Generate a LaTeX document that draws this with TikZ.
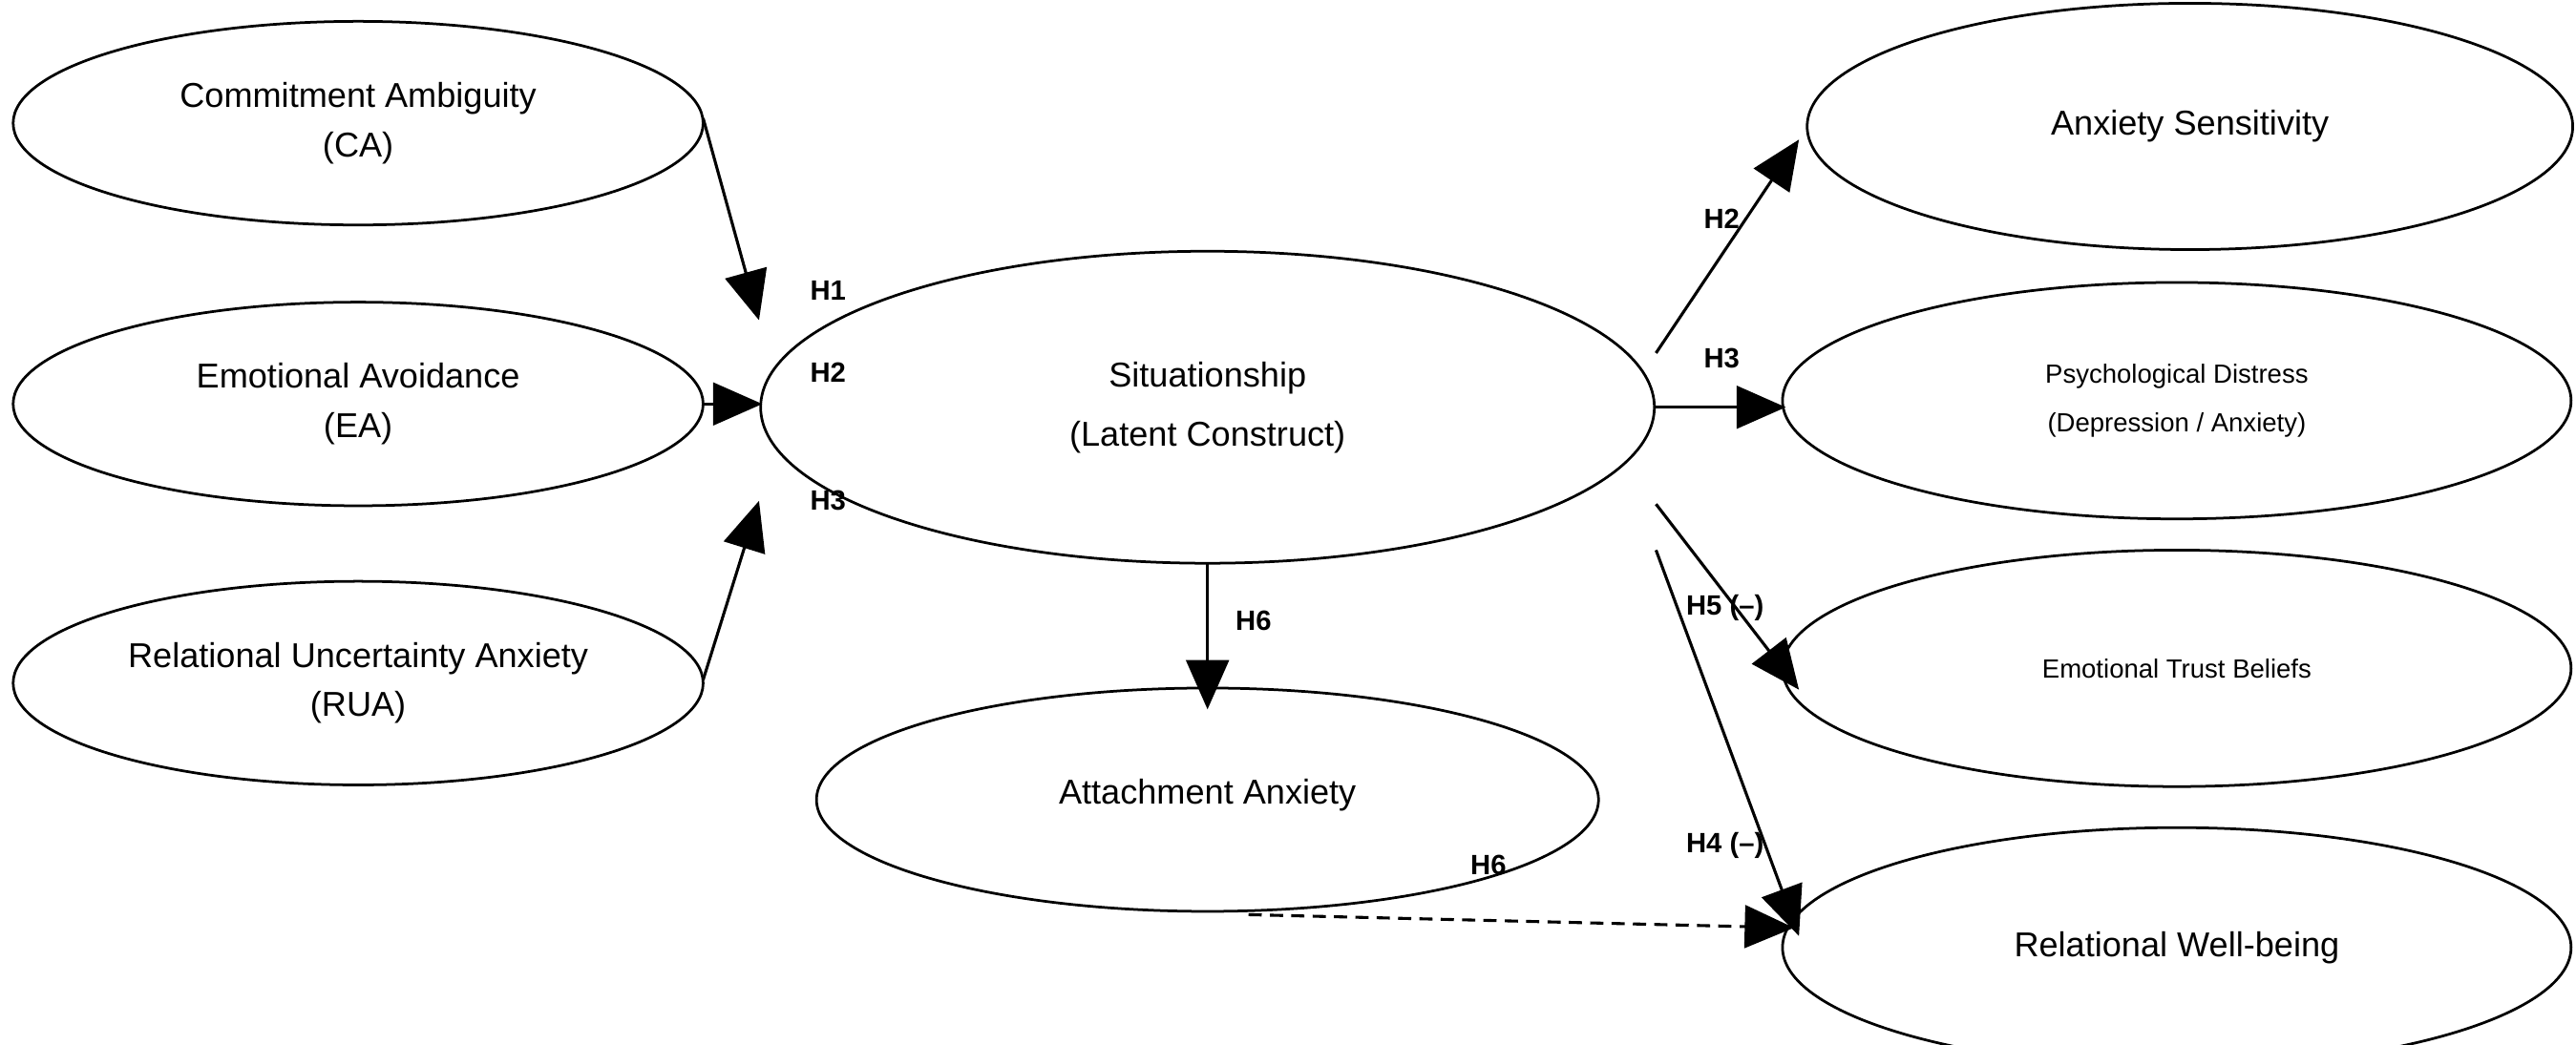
\documentclass[tikz,border=0pt]{standalone}
\usepackage{fontspec}
\setmainfont{Liberation Sans}
\usetikzlibrary{arrows.meta,shapes.geometric}
\begin{document}
\begin{tikzpicture}[x=1pt,y=-1pt,
  ell/.style={draw,line width=1.6pt,ellipse,inner sep=0pt,align=center,font=\fontsize{21}{30}\selectfont},
  arr/.style={line width=1.8pt,-{Triangle[length=30pt,width=26pt]}},
  lab/.style={font=\bfseries\fontsize{17}{19}\selectfont}]
\useasboundingbox (0,0) rectangle (1568,636);
\fill[white] (0,0) rectangle (1568,636);
\node[ell,minimum width=420pt,minimum height=124pt] (ca) at (218,75) {Commitment Ambiguity\\(CA)};
\node[ell,minimum width=420pt,minimum height=124pt] (ea) at (218,246) {Emotional Avoidance\\(EA)};
\node[ell,minimum width=420pt,minimum height=124pt] (rua) at (218,416) {Relational Uncertainty Anxiety\\(RUA)};
\node[ell,minimum width=544pt,minimum height=190pt,font=\fontsize{21}{36}\selectfont] (sit) at (735,248) {Situationship\\(Latent Construct)};
\node[ell,minimum width=476pt,minimum height=136pt] (att) at (735,487) {\raisebox{10pt}{Attachment Anxiety}};
\node[ell,minimum width=466pt,minimum height=150pt] (as) at (1333,77) {\raisebox{4pt}{Anxiety Sensitivity}};
\node[ell,minimum width=480pt,minimum height=144pt,font=\fontsize{16}{30}\selectfont] (pd) at (1325,244) {Psychological Distress\\(Depression / Anxiety)};
\node[ell,minimum width=480pt,minimum height=144pt,font=\fontsize{16}{18}\selectfont] (etb) at (1325,407) {Emotional Trust Beliefs};
\node[ell,minimum width=480pt,minimum height=146pt] (rwb) at (1325,577) {Relational Well-being};
\coordinate (a1s) at (428,72); \coordinate (a1e) at (462,195);
\coordinate (a2s) at (428,246); \coordinate (a2e) at (464,246);
\coordinate (a3s) at (428,414); \coordinate (a3e) at (462,305);
\coordinate (a4s) at (735,343); \coordinate (a4e) at (735,432);
\coordinate (a5s) at (1008,215); \coordinate (a5e) at (1095,85);
\coordinate (a6s) at (1008,248); \coordinate (a6e) at (1087,248);
\coordinate (a7s) at (1008,307); \coordinate (a7e) at (1095,420);
\coordinate (a8s) at (1008,335); \coordinate (a8e) at (1095,570);
\coordinate (a9s) at (760,557); \coordinate (a9e) at (1092,565);
\draw[arr] (a1s) -- (a1e);
\draw[arr] (a2s) -- (a2e);
\draw[arr] (a3s) -- (a3e);
\draw[arr] (a4s) -- (a4e);
\draw[arr] (a5s) -- (a5e);
\draw[arr] (a6s) -- (a6e);
\draw[arr] (a7s) -- (a7e);
\draw[arr] (a8s) -- (a8e);
\draw[arr,dash pattern=on 8pt off 5pt] (a9s) -- (a9e);
\node[lab] (l1) at (504,177) {H1};
\node[lab] (l2) at (504,227) {H2};
\node[lab] (l3) at (504,305) {H3};
\node[lab] (l4) at (763,378) {H6};
\node[lab] (l5) at (1048,133) {H2};
\node[lab] (l6) at (1048,218) {H3};
\node[lab] (l7) at (1050,370) {H5 (–)};
\node[lab] (l8) at (1050,515) {H4 (–)};
\node[lab] (l9) at (906,527) {H6};
\end{tikzpicture}
\end{document}
